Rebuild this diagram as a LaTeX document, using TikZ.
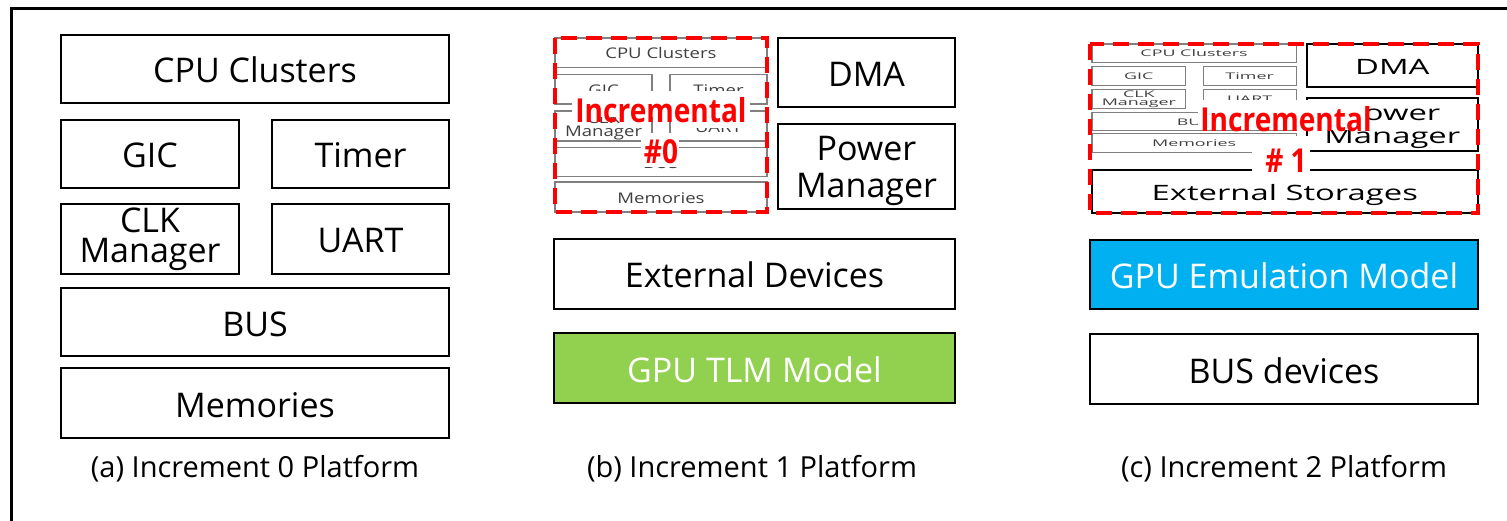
\documentclass[tikz,border=0pt]{standalone}
\usepackage{fontspec}
\setmainfont{Open Sans}
\usepackage{graphicx}
\definecolor{tlmgreen}{HTML}{92D050}
\definecolor{emucyan}{HTML}{00B0F0}
\definecolor{incred}{HTML}{FF0000}
\definecolor{cpline}{HTML}{808080}
\definecolor{cptext}{HTML}{404040}
\tikzset{
  boxbase/.style={draw=black, line width=2.4pt, fill=white, text=black, inner sep=0pt,
    font=\fontsize{34}{36}\selectfont},
  box/.style={boxbase, text height=28pt, text depth=0pt},
  box2/.style={boxbase, align=center},
  lbl/.style={font=\fontsize{34}{37}\selectfont, align=center, inner sep=0pt, text=black},
  cp/.style={draw=cpline, line width=1.5pt, text=cptext},
  cptwo/.style={draw=cpline, line width=1.1pt, text=cptext},
  captext/.style={font=\fontsize{29}{31}\selectfont, anchor=base, inner sep=0pt},
  incbox/.style={draw=incred, line width=4pt, dash pattern=on 16pt off 9pt},
  inc/.style={font=\fontsize{33}{41}\selectfont\bfseries, text=incred, align=center, inner sep=0pt}
}
\newcommand\platA[2]{%
  \node[box,#2,minimum width=388pt,minimum height=68pt] (#1cpu) at (194,34) {CPU Clusters};
  \node[box,#2,minimum width=178pt,minimum height=68pt] (#1gic) at (89,119) {GIC};
  \node[box,#2,minimum width=177pt,minimum height=68pt] (#1timer) at (299.5,119) {Timer};
  \node[box2,#2,minimum width=178pt,minimum height=70pt,font=\fontsize{34}{30}\selectfont] (#1clk) at (89,204) {CLK\\Manager};
  \node[box,#2,minimum width=177pt,minimum height=70pt] (#1uart) at (299.5,204) {UART};
  \node[box,#2,minimum width=388pt,minimum height=68pt] (#1bus) at (194,287) {BUS};
  \node[box,#2,minimum width=388pt,minimum height=70pt] (#1mem) at (194,368) {Memories};
}
\newcommand\platBtop[3]{%
  \begin{scope}[xscale=0.546,yscale=0.432,transform shape]\platA{#1a-}{#2}\end{scope}
  \node[box,#3,minimum width=177pt,minimum height=69pt] (#1dma) at (311.5,34.5) {DMA};
  \node[boxbase,#3,minimum width=177pt,minimum height=85pt] (#1pm) at (311.5,128.5) {};
  \node[lbl] (#1pmtext) at (311.5,133) {Power\\Manager};
}
\newcommand\incBtext{\scalebox{0.85}[1]{Incremental}\\\scalebox{0.85}[1]{\#0}}
\newcommand\incCtext{\scalebox{0.85}[1]{Incremental}\\\scalebox{0.85}[1]{\# 1}}
\begin{document}
\begin{tikzpicture}[x=1pt,y=-1pt]
\path[use as bounding box] (0,0) rectangle (1507,521);
\draw[line width=3pt] (11,530) -- (11,9) -- (1515,9);
% (a)
\begin{scope}[shift={(61,35)}]\platA{a-}{}\end{scope}
\node[captext] (capA) at (255,477) {(a) Increment 0 Platform};
% (b)
\begin{scope}[shift={(555,38)}]\platBtop{b-}{cp}{}\end{scope}
\node[box,minimum width=401pt,minimum height=70pt] (bext) at (754.5,274) {External Devices};
\node[box,fill=tlmgreen,text=white,minimum width=401pt,minimum height=70pt] (btlm) at (754.5,368) {GPU TLM Model};
\draw[incbox] (555,38) rectangle (767,212);
\fill[white] (572,91) rectangle (750,117);
\fill[white] (688,117) rectangle (750,128);
\fill[white] (641,133) rectangle (679,167);
\node[inc] (bincr) at (661,131) {\incBtext};
\node[captext] (capB) at (752,477) {(b) Increment 1 Platform};
% (c)
\begin{scope}[shift={(1092,44)},xscale=0.964,yscale=0.623,transform shape]
  \platBtop{c-}{cptwo}{line width=2pt}
  \node[box,line width=2pt,minimum width=400pt,minimum height=69pt] (cext) at (200,236.5) {External Storages};
\end{scope}
\node[box,fill=emucyan,text=white,minimum width=388pt,minimum height=69pt] (cgpu) at (1284,274.5) {GPU Emulation Model};
\node[box,minimum width=388pt,minimum height=70pt] (cbus) at (1284,369) {BUS devices};
\draw[incbox] (1090,44) rectangle (1478,213);
\fill[white] (1198,100) rectangle (1368,130);
\fill[white] (1252,136) rectangle (1310,172);
\node[inc] (cincr) at (1286,139) {\incCtext};
\node[captext] (capC) at (1284,477) {(c) Increment 2 Platform};
\end{tikzpicture}
\end{document}
